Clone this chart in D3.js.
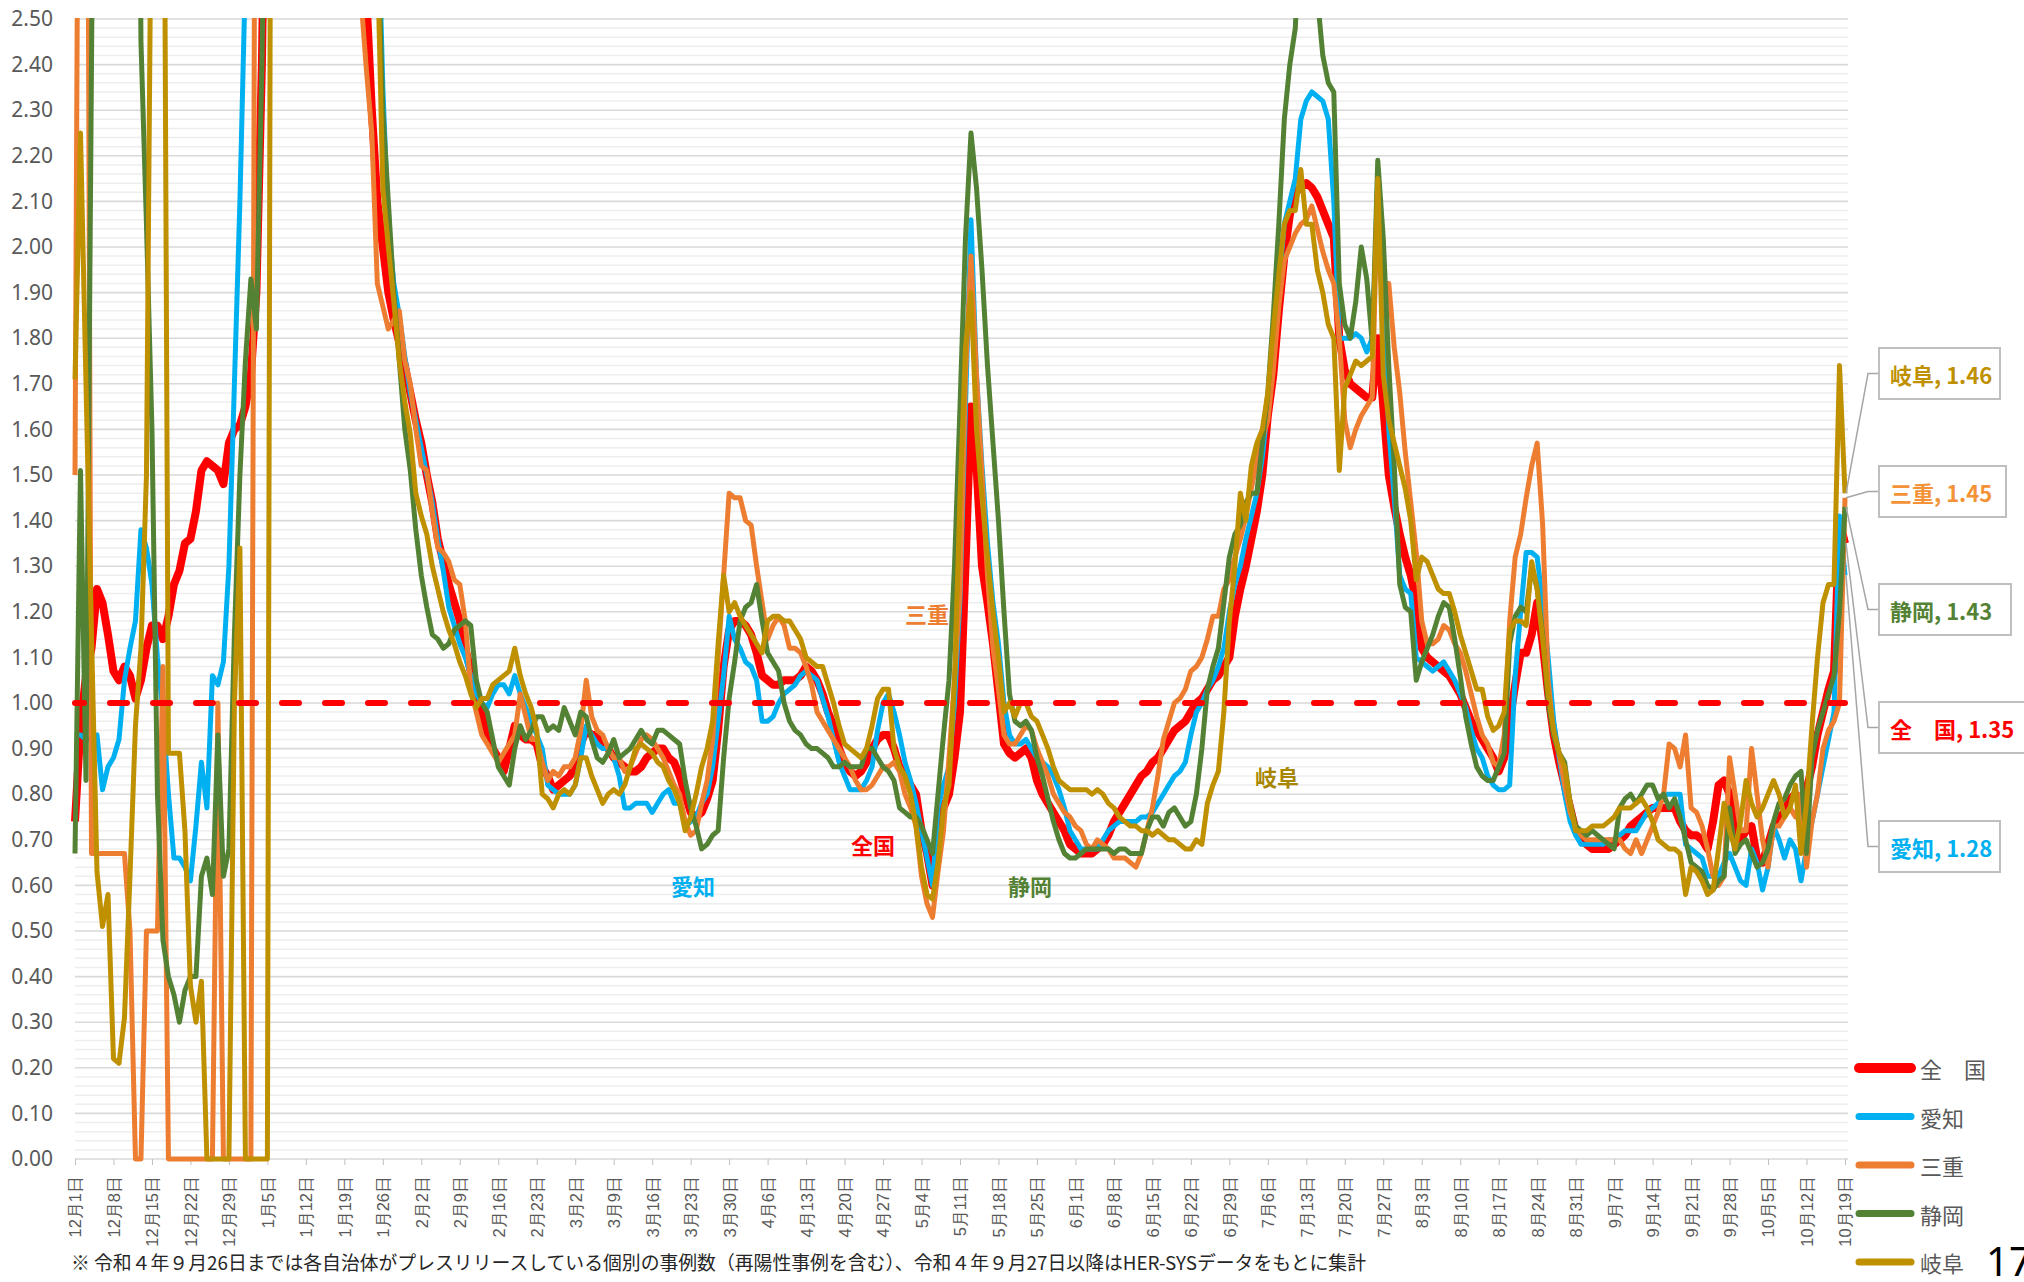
<!DOCTYPE html>
<html lang="ja">
<head>
<meta charset="UTF-8">
<title>実効再生産数の推移</title>
<script src="https://cdn.jsdelivr.net/npm/d3@7"></script>
<style>
  body { margin: 0; background: #fff; }
  svg { display: block; font-family: "Noto Sans CJK JP", "Noto Sans", sans-serif; }
</style>
</head>
<body>
<div id="chart"></div>
<script>
// daily values, 2021/12/1 .. 2022/10/19 (one row = one week)
// values above 2.50 run off the top of the chart
const zenkoku = [
  0.74, 0.95, 1.06, 1.12, 1.25, 1.22, 1.15,
  1.07, 1.05, 1.08, 1.06, 1.01, 1.05, 1.12,
  1.17, 1.17, 1.14, 1.19, 1.26, 1.29, 1.35,
  1.36, 1.42, 1.51, 1.53, 1.52, 1.51, 1.48,
  1.57, 1.60, 1.61, 1.65, 1.72, 1.90, 2.40,
  3.20, 3.80, 4.30, 4.60, 4.80, 4.90, 5.00,
  5.00, 4.90, 4.80, 4.60, 4.40, 4.20, 4.00,
  3.70, 3.40, 3.10, 2.80, 2.55, 2.30, 2.10,
  2.00, 1.90, 1.84, 1.79, 1.74, 1.68, 1.62,
  1.57, 1.50, 1.44, 1.36, 1.31, 1.26, 1.22,
  1.18, 1.12, 1.07, 1.02, 0.98, 0.93, 0.90,
  0.88, 0.85, 0.90, 0.95, 0.93, 0.92, 0.92,
  0.91, 0.86, 0.84, 0.81, 0.82, 0.83, 0.84,
  0.86, 0.91, 0.94, 0.93, 0.93, 0.91, 0.90,
  0.88, 0.87, 0.86, 0.85, 0.85, 0.86, 0.88,
  0.89, 0.90, 0.90, 0.88, 0.87, 0.84, 0.80,
  0.76, 0.75, 0.76, 0.79, 0.83, 0.94, 1.08,
  1.16, 1.18, 1.18, 1.17, 1.15, 1.11, 1.06,
  1.05, 1.04, 1.04, 1.05, 1.05, 1.05, 1.06,
  1.08, 1.07, 1.05, 1.02, 0.98, 0.95, 0.90,
  0.87, 0.85, 0.84, 0.85, 0.87, 0.90, 0.92,
  0.93, 0.93, 0.90, 0.86, 0.84, 0.82, 0.80,
  0.72, 0.67, 0.60, 0.73, 0.77, 0.80, 0.88,
  0.98, 1.30, 1.65, 1.52, 1.30, 1.22, 1.13,
  1.02, 0.91, 0.89, 0.88, 0.89, 0.90, 0.88,
  0.83, 0.80, 0.78, 0.76, 0.74, 0.72, 0.69,
  0.68, 0.67, 0.67, 0.67, 0.68, 0.69, 0.71,
  0.74, 0.76, 0.78, 0.80, 0.82, 0.84, 0.85,
  0.87, 0.88, 0.90, 0.92, 0.94, 0.95, 0.96,
  0.98, 1.00, 1.01, 1.03, 1.05, 1.06, 1.08,
  1.10, 1.19, 1.25, 1.30, 1.36, 1.42, 1.50,
  1.63, 1.72, 1.86, 1.98, 2.07, 2.12, 2.13,
  2.14, 2.13, 2.11, 2.08, 2.05, 2.02, 1.80,
  1.73, 1.70, 1.69, 1.68, 1.67, 1.67, 1.80,
  1.65, 1.50, 1.43, 1.37, 1.32, 1.28, 1.22,
  1.12, 1.10, 1.09, 1.08, 1.07, 1.06, 1.04,
  1.02, 0.99, 0.96, 0.94, 0.92, 0.90, 0.88,
  0.85, 0.88, 0.96, 1.04, 1.11, 1.11, 1.15,
  1.22, 1.13, 1.02, 0.93, 0.87, 0.82, 0.77,
  0.72, 0.70, 0.69, 0.68, 0.68, 0.68, 0.68,
  0.69, 0.70, 0.71, 0.73, 0.74, 0.75, 0.76,
  0.77, 0.77, 0.77, 0.77, 0.77, 0.74, 0.72,
  0.71, 0.71, 0.70, 0.68, 0.74, 0.82, 0.83,
  0.80, 0.75, 0.70, 0.72, 0.73, 0.66, 0.65,
  0.69, 0.73, 0.75, 0.76, 0.79, 0.80, 0.78,
  0.81, 0.86, 0.93, 0.98, 1.03, 1.07, 1.40,
  1.35
];

const aichi = [
  0.93, 0.93, 0.92, 0.92, 0.93, 0.81, 0.86,
  0.88, 0.92, 1.05, 1.12, 1.18, 1.38, 1.34,
  1.26, 1.10, 0.98, 0.80, 0.66, 0.66, 0.64,
  0.61, 0.73, 0.87, 0.77, 1.06, 1.04, 1.09,
  1.30, 1.70, 2.10, 2.60, 3.50, 4.00, 4.30,
  4.50, 4.60, 4.70, 4.80, 4.80, 4.80, 4.70,
  4.60, 4.50, 4.40, 4.30, 4.20, 4.10, 4.00,
  3.90, 3.70, 3.50, 3.30, 3.10, 3.00, 2.80,
  2.35, 2.05, 1.92, 1.85, 1.76, 1.68, 1.62,
  1.56, 1.50, 1.44, 1.36, 1.29, 1.21, 1.17,
  1.13, 1.10, 1.06, 1.02, 1.00, 0.99, 1.02,
  1.04, 1.04, 1.02, 1.06, 1.02, 0.99, 0.96,
  0.93, 0.90, 0.82, 0.81, 0.80, 0.80, 0.80,
  0.82, 0.88, 0.95, 0.93, 0.91, 0.90, 0.90,
  0.88, 0.84, 0.77, 0.77, 0.78, 0.78, 0.78,
  0.76, 0.78, 0.80, 0.81, 0.78, 0.78, 0.73,
  0.74, 0.75, 0.78, 0.80, 0.86, 0.96, 1.06,
  1.19, 1.14, 1.12, 1.09, 1.08, 1.05, 0.96,
  0.96, 0.97, 1.00, 1.02, 1.03, 1.04, 1.06,
  1.07, 1.06, 1.05, 1.01, 0.97, 0.92, 0.87,
  0.84, 0.81, 0.81, 0.81, 0.83, 0.86, 0.94,
  1.00, 1.02, 0.98, 0.93, 0.87, 0.83, 0.78,
  0.72, 0.66, 0.60, 0.77, 0.82, 0.86, 1.00,
  1.23, 1.65, 2.06, 1.72, 1.52, 1.35, 1.22,
  1.13, 1.00, 0.93, 0.91, 0.91, 0.92, 0.90,
  0.88, 0.87, 0.86, 0.84, 0.81, 0.77, 0.72,
  0.70, 0.68, 0.68, 0.68, 0.68, 0.70, 0.72,
  0.73, 0.74, 0.74, 0.74, 0.74, 0.75, 0.75,
  0.76, 0.78, 0.80, 0.82, 0.84, 0.85, 0.87,
  0.93, 0.98, 1.00, 1.03, 1.05, 1.08, 1.12,
  1.20, 1.26, 1.30, 1.36, 1.41, 1.46, 1.54,
  1.65, 1.78, 1.92, 2.05, 2.10, 2.15, 2.28,
  2.32, 2.34, 2.33, 2.32, 2.28, 2.10, 1.80,
  1.80, 1.80, 1.81, 1.80, 1.77, 1.80, 2.10,
  1.88, 1.60, 1.45, 1.28, 1.25, 1.24, 1.10,
  1.09, 1.08, 1.07, 1.08, 1.09, 1.07, 1.05,
  1.02, 0.99, 0.94, 0.90, 0.88, 0.84, 0.82,
  0.81, 0.81, 0.82, 1.06, 1.20, 1.33, 1.33,
  1.32, 1.22, 1.10, 0.96, 0.88, 0.80, 0.74,
  0.71, 0.69, 0.69, 0.69, 0.69, 0.69, 0.70,
  0.70, 0.71, 0.72, 0.72, 0.72, 0.74, 0.76,
  0.77, 0.78, 0.80, 0.80, 0.80, 0.80, 0.69,
  0.68, 0.67, 0.66, 0.62, 0.62, 0.62, 0.65,
  0.67, 0.64, 0.61, 0.60, 0.68, 0.65, 0.59,
  0.64, 0.73, 0.70, 0.66, 0.70, 0.68, 0.61,
  0.68, 0.74, 0.80, 0.86, 0.92, 0.98, 1.41,
  1.28
];

const mie = [
  1.50, 4.00, 4.00, 0.67, 0.67, 0.67, 0.67,
  0.67, 0.67, 0.67, 0.50, 0.00, 0.00, 0.50,
  0.50, 0.50, 1.08, 0.00, 0.00, 0.00, 0.00,
  0.00, 0.00, 0.00, 0.00, 0.00, 1.00, 0.00,
  0.00, 0.00, 0.00, 0.00, 0.00, 4.00, 4.50,
  4.80, 5.00, 5.00, 5.00, 5.00, 4.80, 4.60,
  4.40, 4.20, 4.00, 3.90, 3.80, 3.60, 3.40,
  3.20, 3.00, 2.80, 2.55, 2.39, 2.25, 1.92,
  1.87, 1.82, 1.84, 1.86, 1.75, 1.70, 1.60,
  1.52, 1.51, 1.42, 1.34, 1.33, 1.31, 1.27,
  1.26, 1.18, 1.03, 0.98, 0.93, 0.91, 0.89,
  0.87, 0.89, 0.91, 0.93, 1.02, 0.97, 0.92,
  0.92, 0.87, 0.83, 0.85, 0.84, 0.86, 0.86,
  0.88, 0.94, 1.05, 0.97, 0.94, 0.93, 0.90,
  0.88, 0.88, 0.85, 0.86, 0.89, 0.92, 0.93,
  0.92, 0.90, 0.88, 0.85, 0.82, 0.80, 0.74,
  0.71, 0.72, 0.78, 0.83, 0.92, 1.10, 1.28,
  1.46, 1.45, 1.45, 1.40, 1.39, 1.30, 1.22,
  1.14, 1.17, 1.19, 1.17, 1.12, 1.12, 1.11,
  1.08, 1.04, 0.98, 0.96, 0.94, 0.92, 0.90,
  0.88, 0.86, 0.83, 0.81, 0.81, 0.82, 0.84,
  0.86, 0.86, 0.87, 0.85, 0.80, 0.77, 0.73,
  0.62, 0.56, 0.53, 0.63, 0.72, 0.88, 1.05,
  1.25, 1.72, 1.98, 1.72, 1.50, 1.28, 1.12,
  1.03, 0.93, 0.91, 0.91, 0.93, 0.95, 0.94,
  0.90, 0.87, 0.84, 0.80, 0.78, 0.76, 0.75,
  0.73, 0.72, 0.69, 0.68, 0.70, 0.69, 0.68,
  0.66, 0.66, 0.66, 0.65, 0.64, 0.67, 0.72,
  0.77, 0.84, 0.92, 0.96, 1.00, 1.01, 1.03,
  1.07, 1.08, 1.10, 1.14, 1.19, 1.19, 1.25,
  1.27, 1.32, 1.36, 1.41, 1.47, 1.53, 1.58,
  1.62, 1.73, 1.87, 1.97, 2.00, 2.03, 2.05,
  2.06, 2.09, 2.04, 1.99, 1.95, 1.92, 1.80,
  1.62, 1.56, 1.60, 1.63, 1.65, 1.67, 2.15,
  1.92, 1.92, 1.78, 1.68, 1.55, 1.44, 1.33,
  1.18, 1.13, 1.13, 1.14, 1.17, 1.16, 1.13,
  1.11, 1.07, 1.02, 0.97, 0.93, 0.91, 0.87,
  0.86, 0.93, 1.18, 1.32, 1.37, 1.45, 1.52,
  1.57, 1.39, 1.05, 0.93, 0.89, 0.82, 0.76,
  0.73, 0.71, 0.70, 0.70, 0.70, 0.70, 0.70,
  0.70, 0.70, 0.68, 0.67, 0.70, 0.67, 0.70,
  0.73, 0.76, 0.80, 0.91, 0.90, 0.86, 0.93,
  0.77, 0.76, 0.73, 0.68, 0.62, 0.60, 0.62,
  0.88, 0.80, 0.72, 0.72, 0.90, 0.80, 0.70,
  0.64, 0.73, 0.73, 0.75, 0.77, 0.75, 0.80,
  0.64, 0.74, 0.80, 0.90, 0.94, 0.96, 1.00,
  1.45
];

const shizuoka = [
  0.67, 1.51, 0.83, 2.40, 4.00, 4.50, 4.80,
  5.00, 5.00, 4.80, 4.50, 4.00, 2.45, 2.05,
  1.60, 0.80, 0.48, 0.40, 0.36, 0.30, 0.37,
  0.40, 0.40, 0.62, 0.66, 0.58, 0.93, 0.62,
  0.68, 1.15, 1.50, 1.75, 1.93, 1.82, 2.40,
  3.20, 4.00, 4.50, 4.80, 5.00, 5.00, 5.00,
  5.00, 5.00, 4.90, 4.80, 4.70, 4.60, 4.50,
  4.40, 4.20, 4.00, 3.70, 3.40, 3.00, 2.70,
  2.30, 2.10, 1.90, 1.75, 1.60, 1.51, 1.38,
  1.28, 1.21, 1.15, 1.14, 1.12, 1.13, 1.16,
  1.17, 1.18, 1.17, 1.05, 1.00, 0.98, 0.92,
  0.86, 0.84, 0.82, 0.90, 0.95, 0.92, 0.94,
  0.97, 0.97, 0.94, 0.95, 0.94, 0.99, 0.96,
  0.93, 0.98, 0.97, 0.92, 0.88, 0.87, 0.89,
  0.92, 0.88, 0.89, 0.90, 0.92, 0.94, 0.92,
  0.91, 0.94, 0.94, 0.93, 0.92, 0.91, 0.83,
  0.77, 0.73, 0.68, 0.69, 0.71, 0.72, 0.88,
  1.01, 1.09, 1.18, 1.21, 1.22, 1.26, 1.18,
  1.11, 1.09, 1.07, 1.00, 0.96, 0.94, 0.93,
  0.91, 0.90, 0.90, 0.89, 0.88, 0.86, 0.86,
  0.87, 0.86, 0.86, 0.86, 0.90, 0.90, 0.88,
  0.86, 0.85, 0.83, 0.77, 0.76, 0.75, 0.75,
  0.73, 0.70, 0.67, 0.80, 0.93, 1.05, 1.30,
  1.65, 2.02, 2.25, 2.13, 1.95, 1.74, 1.57,
  1.40, 1.20, 1.02, 0.96, 0.95, 0.96, 0.94,
  0.88, 0.84, 0.79, 0.74, 0.70, 0.67, 0.66,
  0.66, 0.67, 0.68, 0.68, 0.68, 0.68, 0.68,
  0.67, 0.68, 0.68, 0.67, 0.67, 0.67, 0.72,
  0.75, 0.75, 0.73, 0.76, 0.77, 0.75, 0.73,
  0.74, 0.80, 0.90, 1.03, 1.08, 1.12, 1.22,
  1.32, 1.37, 1.39, 1.44, 1.46, 1.46, 1.57,
  1.68, 1.85, 2.05, 2.28, 2.40, 2.48, 2.75,
  2.90, 2.80, 2.55, 2.42, 2.36, 2.34, 1.92,
  1.83, 1.80, 1.88, 2.00, 1.93, 1.79, 2.19,
  2.02, 1.74, 1.52, 1.26, 1.21, 1.20, 1.05,
  1.09, 1.12, 1.15, 1.19, 1.22, 1.21, 1.14,
  1.06, 0.97, 0.91, 0.86, 0.84, 0.83, 0.83,
  0.86, 0.89, 1.13, 1.19, 1.21, 1.20, 1.30,
  1.25, 1.15, 1.00, 0.93, 0.89, 0.87, 0.78,
  0.73, 0.72, 0.71, 0.72, 0.71, 0.70, 0.69,
  0.68, 0.77, 0.79, 0.80, 0.78, 0.80, 0.82,
  0.82, 0.79, 0.80, 0.77, 0.79, 0.75, 0.70,
  0.65, 0.64, 0.63, 0.60, 0.59, 0.61, 0.62,
  0.77, 0.67, 0.69, 0.70, 0.67, 0.64, 0.65,
  0.68, 0.74, 0.78, 0.79, 0.82, 0.84, 0.85,
  0.67, 0.88, 0.94, 0.98, 1.02, 1.06, 1.20,
  1.43
];

const gifu = [
  1.71, 2.25, 1.70, 1.15, 0.63, 0.51, 0.58,
  0.22, 0.21, 0.31, 0.62, 0.95, 1.12, 1.50,
  3.00, 4.00, 3.50, 0.89, 0.89, 0.89, 0.72,
  0.38, 0.30, 0.39, 0.00, 0.00, 0.00, 0.00,
  0.00, 1.00, 1.34, 0.00, 0.00, 0.00, 0.00,
  0.00, 5.00, 5.00, 5.00, 5.00, 5.00, 5.00,
  5.00, 5.00, 4.80, 4.60, 4.40, 4.20, 4.00,
  3.80, 3.60, 3.40, 3.20, 3.00, 2.85, 2.65,
  2.13, 2.00, 1.88, 1.75, 1.66, 1.59, 1.46,
  1.41, 1.37, 1.30, 1.25, 1.20, 1.16, 1.13,
  1.09, 1.06, 1.02, 0.99, 1.01, 1.01, 1.04,
  1.05, 1.06, 1.07, 1.12, 1.06, 1.02, 0.99,
  0.94, 0.80, 0.79, 0.77, 0.80, 0.81, 0.80,
  0.82, 0.88, 0.88, 0.84, 0.81, 0.78, 0.80,
  0.81, 0.80, 0.82, 0.86, 0.90, 0.91, 0.90,
  0.89, 0.87, 0.86, 0.83, 0.81, 0.78, 0.72,
  0.75, 0.80, 0.86, 0.90, 0.96, 1.13, 1.28,
  1.20, 1.22, 1.19, 1.17, 1.15, 1.13, 1.11,
  1.18, 1.19, 1.19, 1.18, 1.18, 1.16, 1.14,
  1.10, 1.09, 1.08, 1.08, 1.04, 1.00, 0.95,
  0.91, 0.90, 0.89, 0.88, 0.90, 0.95, 1.01,
  1.03, 1.03, 0.90, 0.86, 0.84, 0.80, 0.73,
  0.64, 0.58, 0.57, 0.65, 0.77, 0.82, 1.05,
  1.45, 1.78, 1.90, 1.60, 1.45, 1.32, 1.20,
  1.10, 0.98, 1.00, 0.97, 1.00, 1.00, 0.97,
  0.96, 0.93, 0.90, 0.86, 0.83, 0.82, 0.81,
  0.81, 0.81, 0.81, 0.80, 0.81, 0.80, 0.78,
  0.77, 0.75, 0.74, 0.73, 0.73, 0.72, 0.72,
  0.71, 0.72, 0.71, 0.70, 0.70, 0.69, 0.68,
  0.68, 0.70, 0.69, 0.78, 0.82, 0.85, 0.98,
  1.18, 1.30, 1.46, 1.40, 1.52, 1.57, 1.60,
  1.68, 1.82, 1.94, 2.05, 2.08, 2.08, 2.17,
  2.05, 2.05, 1.95, 1.90, 1.83, 1.80, 1.51,
  1.69, 1.72, 1.75, 1.74, 1.75, 1.76, 2.15,
  1.72, 1.62, 1.57, 1.52, 1.47, 1.40, 1.27,
  1.32, 1.31, 1.28, 1.25, 1.24, 1.24, 1.20,
  1.15, 1.11, 1.07, 1.03, 1.03, 0.97, 0.94,
  0.95, 0.98, 1.16, 1.18, 1.18, 1.17, 1.31,
  1.25, 1.14, 1.02, 0.94, 0.89, 0.86, 0.78,
  0.72, 0.72, 0.72, 0.73, 0.73, 0.73, 0.74,
  0.75, 0.77, 0.77, 0.77, 0.78, 0.79, 0.77,
  0.74, 0.70, 0.69, 0.68, 0.68, 0.67, 0.58,
  0.64, 0.63, 0.61, 0.58, 0.59, 0.68, 0.78,
  0.72, 0.68, 0.74, 0.83, 0.78, 0.75, 0.77,
  0.80, 0.83, 0.80, 0.75, 0.77, 0.82, 0.67,
  0.78, 0.95, 1.10, 1.22, 1.26, 1.26, 1.74,
  1.46
];

const refValue = 1.0;   // 基準線
const seriesNames = ["全　国", "愛知", "三重", "静岡", "岐阜"];
const yTicks = d3.range(0, 26).map(i => +(i * 0.1).toFixed(1));
const footnote = "※ 令和４年９月26日までは各自治体がプレスリリースしている個別の事例数（再陽性事例を含む）、令和４年９月27日以降はHER-SYSデータをもとに集計";

const startDay = Date.UTC(2021, 11, 1);
const dates = d3.range(zenkoku.length).map(i => new Date(startDay + i * 864e5));
const tickIdx = d3.range(0, dates.length, 7);
const fmtDate = d3.utcFormat("%-m月%-d日");

const series = [
  {name: seriesNames[0], values: zenkoku,  color: "#FF0000", width: 8, text: "#FF0000"},
  {name: seriesNames[1], values: aichi,    color: "#00B0F0", width: 5, text: "#00B0F0"},
  {name: seriesNames[2], values: mie,      color: "#ED7D31", width: 5, text: "#F39237"},
  {name: seriesNames[3], values: shizuoka, color: "#548235", width: 5, text: "#548235"},
  {name: seriesNames[4], values: gifu,     color: "#BF9000", width: 5, text: "#BF9000"}
];

const W = 2024, H = 1282;
const pLeft = 75, pRight = 1845, pTop = 19, pBottom = 1159;

const svg = d3.select("#chart").append("svg")
  .attr("width", W)
  .attr("height", H);

const x = d3.scalePoint().domain(d3.range(dates.length)).range([pLeft, pRight]);
const y = d3.scaleLinear().domain([0, 2.5]).range([pBottom, pTop]);

// minor + major gridlines
const minor = d3.range(0, 126).filter(i => i % 5 !== 0).map(i => i * 0.02);
svg.append("g").selectAll("line").data(minor).join("line")
  .attr("x1", pLeft).attr("x2", pRight + 3)
  .attr("y1", d => y(d)).attr("y2", d => y(d))
  .attr("stroke", "#EEEEEE").attr("stroke-width", 1.5);
svg.append("g").selectAll("line").data(yTicks.slice(1)).join("line")
  .attr("x1", pLeft).attr("x2", pRight + 3)
  .attr("y1", d => y(d)).attr("y2", d => y(d))
  .attr("stroke", "#D9D9D9").attr("stroke-width", 1.6);

// y axis labels
const yAxis = svg.append("g")
  .attr("transform", "translate(" + pLeft + ",0)")
  .call(d3.axisLeft(y).tickValues(yTicks).tickFormat(d3.format(".2f")).tickSize(0).tickPadding(22));
yAxis.select(".domain").remove();
yAxis.selectAll("text")
  .style("font-family", "'Noto Sans', sans-serif")
  .style("font-size", "21px")
  .attr("fill", "#595959");

// x axis
const xAxis = svg.append("g")
  .attr("transform", "translate(0," + pBottom + ")")
  .call(d3.axisBottom(x).tickValues(tickIdx).tickFormat(i => fmtDate(dates[i])).tickSize(6));
xAxis.select(".domain").attr("stroke", "#D9D9D9").attr("stroke-width", 1.6)
  .attr("d", "M" + pLeft + ",0H" + (pRight + 3));
xAxis.selectAll(".tick line").attr("stroke", "#BFBFBF");
xAxis.selectAll("text")
  .attr("transform", "rotate(-90)")
  .attr("text-anchor", "end")
  .attr("x", -17).attr("y", 0).attr("dy", "0.36em")
  .style("font-size", "16.5px")
  .attr("fill", "#595959");

// lines, clipped at the top of the plot
svg.append("clipPath").attr("id", "plotclip")
  .append("rect").attr("x", 0).attr("y", pTop - 1).attr("width", W).attr("height", H);

const line = d3.line().x((d, i) => x(i)).y(d => y(d));
const lines = svg.append("g").attr("clip-path", "url(#plotclip)");
lines.selectAll("path").data(series).join("path")
  .attr("d", d => line(d.values))
  .attr("fill", "none")
  .attr("stroke", d => d.color)
  .attr("stroke-width", d => d.width)
  .attr("stroke-linejoin", "round");

// 1.00 reference line
svg.append("line")
  .attr("x1", x(0)).attr("x2", x(dates.length - 1))
  .attr("y1", y(refValue)).attr("y2", y(refValue))
  .attr("stroke", "#FF0000").attr("stroke-width", 6)
  .attr("stroke-dasharray", "17,26").attr("stroke-dashoffset", 8)
  .attr("stroke-linecap", "round");

// labels inside the plot
const inlineLabels = [
  {s: 2, x: 927, y: 613},
  {s: 0, x: 873, y: 844},
  {s: 1, x: 693, y: 885},
  {s: 3, x: 1030, y: 885},
  {s: 4, x: 1277, y: 776}
];
svg.append("g").selectAll("text").data(inlineLabels).join("text")
  .attr("x", d => d.x).attr("y", d => d.y)
  .attr("text-anchor", "middle").attr("dominant-baseline", "central")
  .style("font-size", "22px").style("font-weight", "bold")
  .attr("fill", d => d.s === 4 ? "#A88600" : series[d.s].color)
  .text(d => series[d.s].name.replace("　", ""));

// end-of-line data labels
const last = dates.length - 1;
const endBoxes = [
  {s: 4, y: 348, w: 121},
  {s: 2, y: 466, w: 127},
  {s: 3, y: 584, w: 132},
  {s: 0, y: 702, w: 160},
  {s: 1, y: 821, w: 121}
];
const boxH = 51, boxX = 1879;
const eg = svg.append("g");
eg.selectAll("path").data(endBoxes).join("path")
  .attr("d", d => "M" + boxX + "," + (d.y + boxH / 2) + "H" + (boxX - 11) +
    "L" + (x(last) + 1) + "," + y(series[d.s].values[last]))
  .attr("fill", "none").attr("stroke", "#A6A6A6").attr("stroke-width", 1.5);
eg.selectAll("rect").data(endBoxes).join("rect")
  .attr("x", boxX).attr("y", d => d.y)
  .attr("width", d => d.w).attr("height", boxH)
  .attr("fill", "#fff").attr("stroke", "#BFBFBF").attr("stroke-width", 2);
eg.selectAll("text").data(endBoxes).join("text")
  .attr("x", d => boxX + 11).attr("y", d => d.y + boxH / 2)
  .attr("dominant-baseline", "central")
  .style("font-size", "22px").style("font-weight", "bold")
  .attr("fill", d => series[d.s].text)
  .text(d => series[d.s].name + ", " + series[d.s].values[last].toFixed(2));

// legend
const lg = svg.append("g").attr("transform", "translate(1857,1068)");
const li = lg.selectAll("g").data(series).join("g")
  .attr("transform", (d, i) => "translate(0," + (i * 48.5) + ")");
li.append("line").attr("x1", 2).attr("x2", 54)
  .attr("stroke", d => d.color)
  .attr("stroke-width", (d, i) => i === 0 ? 10 : 7)
  .attr("stroke-linecap", "round");
li.append("text").attr("x", 63).attr("dominant-baseline", "central")
  .style("font-size", "22px").attr("fill", "#595959")
  .text(d => d.name);

// footnote and page number
svg.append("text")
  .attr("x", 71).attr("y", 1270)
  .attr("textLength", 1295).attr("lengthAdjust", "spacingAndGlyphs")
  .style("font-size", "19px").attr("fill", "#262626")
  .text(footnote);
svg.append("text")
  .attr("x", 1986).attr("y", 1276)
  .style("font-family", "'Noto Sans', sans-serif")
  .style("font-size", "40px").attr("fill", "#000")
  .text("17");
</script>
</body>
</html>
